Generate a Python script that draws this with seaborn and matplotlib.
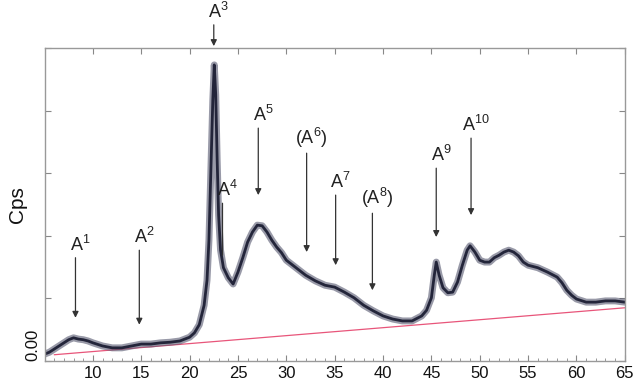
import matplotlib
matplotlib.use("Agg")
import matplotlib.pyplot as plt
import pandas as pd
import numpy as np
import seaborn as sns

# 2-theta (deg) and intensity (Cps, arbitrary units)
two_theta = [5.0, 5.5, 6.0, 6.5, 7.0, 7.5, 8.0, 8.5, 9.0, 9.5, 10.0, 11.0, 12.0, 13.0,
             14.0, 15.0, 16.0, 17.0, 18.0, 19.0, 20.0, 20.5, 21.0, 21.5, 21.8, 22.0,
             22.2, 22.4, 22.55, 22.7, 22.85, 23.0, 23.2, 23.5, 24.0, 24.5, 25.0, 25.5,
             26.0, 26.5, 27.0, 27.5, 28.0, 28.5, 29.0, 29.5, 30.0, 31.0, 32.0, 33.0,
             34.0, 35.0, 36.0, 37.0, 38.0, 39.0, 40.0, 41.0, 42.0, 43.0, 44.0, 44.5,
             45.0, 45.3, 45.5, 45.8, 46.2, 46.7, 47.2, 47.7, 48.2, 48.7, 49.0, 49.5,
             50.0, 50.5, 51.0, 51.5, 52.0, 52.5, 53.0, 53.5, 54.0, 54.5, 55.0, 56.0,
             57.0, 58.0, 58.5, 59.0, 59.5, 60.0, 61.0, 62.0, 63.0, 64.0, 65.0]
cps = [0.11, 0.14, 0.19, 0.24, 0.29, 0.34, 0.37, 0.35, 0.34, 0.32, 0.29, 0.24, 0.21, 0.21,
       0.24, 0.27, 0.27, 0.29, 0.30, 0.32, 0.38, 0.45, 0.58, 0.89, 1.29, 1.93,
       3.05, 4.17, 4.73, 4.25, 3.21, 2.33, 1.77, 1.49, 1.33, 1.23, 1.42, 1.65,
       1.90, 2.06, 2.17, 2.16, 2.06, 1.93, 1.82, 1.73, 1.61, 1.49, 1.37, 1.28,
       1.21, 1.18, 1.10, 1.01, 0.89, 0.80, 0.72, 0.67, 0.64, 0.64, 0.72, 0.81,
       1.01, 1.37, 1.58, 1.37, 1.17, 1.09, 1.10, 1.26, 1.53, 1.77, 1.84, 1.74,
       1.61, 1.58, 1.58, 1.65, 1.69, 1.74, 1.77, 1.74, 1.68, 1.58, 1.53, 1.49,
       1.42, 1.34, 1.25, 1.13, 1.05, 0.99, 0.94, 0.94, 0.96, 0.96, 0.94]

base_x = [6.0, 65.0]
base_y = [0.10, 0.85]

# peak labels: x, arrow tail y, arrow tip y
peak_labels = ["A$^1$", "A$^2$", "A$^3$", "A$^4$", "A$^5$", "(A$^6$)", "A$^7$", "(A$^8$)", "A$^9$", "A$^{10}$"]
peak_x = [8.2, 14.8, 22.5, 23.4, 27.1, 32.1, 35.1, 38.9, 45.5, 49.1]
peak_tail = [1.65, 1.77, 5.37, 2.52, 3.72, 3.32, 2.65, 2.36, 3.08, 3.56]
peak_tip = [0.69, 0.58, 5.03, 1.69, 2.65, 1.74, 1.53, 1.13, 1.98, 2.33]

sns.set_style("ticks")
plt.rcParams["font.family"] = ["Liberation Sans", "DejaVu Sans"]
plt.rcParams["mathtext.fontset"] = "custom"
plt.rcParams["mathtext.rm"] = "Liberation Sans"
plt.rcParams["mathtext.default"] = "regular"

fig = plt.figure(figsize=(6.37, 3.88), dpi=100)
ax = fig.add_axes([0.0699, 0.0696, 0.911, 0.8067])

df = pd.DataFrame({"two_theta": two_theta, "cps": cps})
base = pd.DataFrame({"x": base_x, "y": base_y})

sns.lineplot(data=base, x="x", y="y", ax=ax, color="#e8557a", lw=0.9)
sns.lineplot(data=df, x="two_theta", y="cps", ax=ax, color="#55576f", lw=5, alpha=0.6)
sns.lineplot(data=df, x="two_theta", y="cps", ax=ax, color="#23253a", lw=2.0)

for lab, x, t0, t1 in zip(peak_labels, peak_x, peak_tail, peak_tip):
    style = "-" if lab == "A$^4$" else "-|>"
    ax.annotate("", xy=(x, t1), xytext=(x, t0), annotation_clip=False,
                arrowprops=dict(arrowstyle=style, color="#333333", lw=0.9,
                                mutation_scale=9, shrinkA=0, shrinkB=0))
    ax.text(x + 0.5, t0 + 0.05, lab, ha="center", va="bottom", fontsize=13, color="#222222")

ax.set_xlim(5, 65)
ax.set_ylim(0, 5)
ax.set_xticks(range(10, 66, 5))
ax.set_xticks(range(5, 66, 1), minor=True)
ax.set_yticks(range(0, 6))
ax.set_yticklabels(["0.00", "", "", "", "", ""], rotation=90, va="bottom")
ax.tick_params(axis="both", which="both", direction="in", top=True, right=True,
               color="#888888", labelsize=12, labelcolor="#111111")
ax.tick_params(axis="x", which="major", length=4)
ax.tick_params(axis="x", which="minor", length=2.5, top=False)
ax.tick_params(axis="y", which="major", length=4, pad=3)
for s in ax.spines.values():
    s.set_color("#999999")
    s.set_linewidth(1.0)

ax.set_xlabel("")
ax.set_ylabel("Cps", fontsize=15, color="#111111")
ax.yaxis.set_label_coords(-0.03, 0.5)

fig.savefig("out.png", dpi=100)
